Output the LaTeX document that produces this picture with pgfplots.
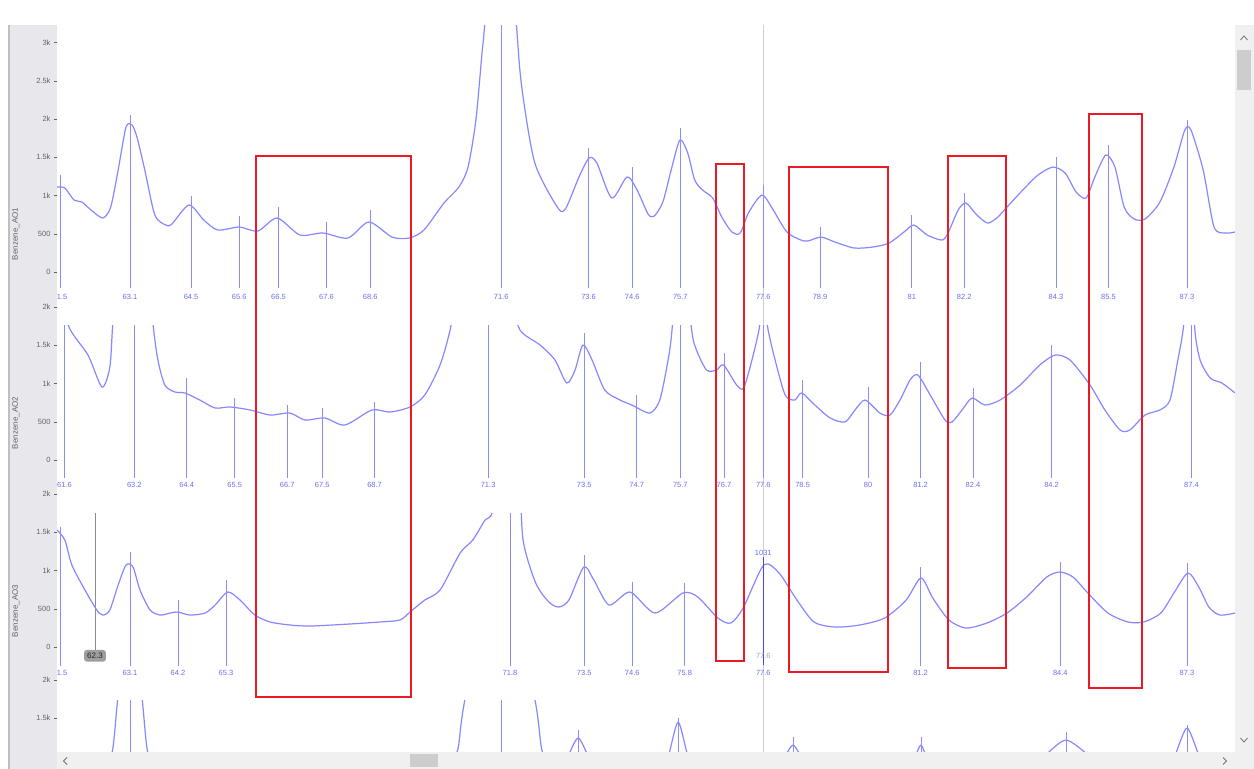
\documentclass[border=0pt]{standalone}
\usepackage{pgfplots}
\pgfplotsset{compat=1.18}
\usepackage{fontspec}
\setmainfont{Liberation Sans}
\definecolor{crv}{RGB}{135,135,255}
\definecolor{stm}{RGB}{140,140,255}
\definecolor{lbl}{RGB}{110,110,245}
\definecolor{redbox}{RGB}{235,25,35}
\definecolor{tickc}{RGB}{100,100,100}
\definecolor{panelgray}{RGB}{232,232,236}
\definecolor{cursorc}{RGB}{205,205,205}
\definecolor{track}{RGB}{240,240,240}
\definecolor{thumb}{RGB}{205,205,205}
\definecolor{hl}{RGB}{70,70,235}
\pgfplotsset{
  base/.style={x=43.68pt, y=0.0765pt, xmin=61.43, xmax=88.40, anchor=south west},
  data/.style={base, hide axis, clip=true},
  tks/.style={base, hide x axis, axis y line*=left, y axis line style={draw=none},
    ytick style={tickc, line width=0.5pt}, major tick length=3pt, tick align=outside,
    scaled y ticks=false,
    yticklabel style={font=\fontsize{7.5}{8}\selectfont, text=tickc}},
  crvs/.style={crv, line width=1.2pt, no marks, smooth, tension=0.45, line join=round},
  stms/.style={stm, line width=0.8pt, no marks, unbounded coords=jump},
  labs/.style={draw=none, mark=none, nodes near coords, point meta=explicit symbolic,
    every node near coord/.append style={font=\fontsize{7.5}{8}\selectfont, text=lbl, anchor=center, inner sep=0pt}},
}
\begin{document}
\begin{tikzpicture}[x=1pt,y=1pt]
\useasboundingbox (0,0) rectangle (1254,769);
\fill[white] (0,0) rectangle (1254,769);
\draw[cursorc, line width=0.8pt] (763,17) -- (763,744);

% ---------------- panel 1 data ----------------
\begin{axis}[data, at={(57pt,464pt)}, ymin=-431, ymax=3228]
\addplot[crvs] coordinates {(61.43,1111) (61.61,1098) (61.82,941) (62.00,915) (62.21,810) (62.48,706) (62.66,850) (62.83,1333) (63.01,1895) (63.15,1921) (63.26,1764) (63.44,1333) (63.67,745) (63.92,614) (64.06,627) (64.45,876) (64.79,680) (65.11,549) (65.60,588) (66.03,536) (66.47,706) (66.99,484) (67.52,510) (68.09,444) (68.57,654) (69.10,457) (69.49,444) (69.83,549) (70.29,902) (70.63,1111) (70.84,1372) (71.02,1987) (71.16,2862) (71.23,3294) (71.6,6000) (71.94,3294) (72.07,2418) (72.37,1425) (72.90,836) (73.08,836) (73.38,1242) (73.61,1490) (73.79,1425) (74.13,967) (74.48,1242) (74.71,1072) (74.96,760) (75.10,730) (75.30,915) (75.49,1333) (75.69,1725) (75.87,1555) (76.03,1202) (76.21,1072) (76.44,967) (76.65,719) (76.88,523) (77.07,510) (77.27,784) (77.57,1006) (77.80,836) (78.14,523) (78.46,418) (78.62,405) (78.92,457) (79.24,392) (79.68,314) (80.11,327) (80.48,379) (80.82,523) (81.05,614) (81.35,484) (81.69,418) (81.83,510) (82.06,810) (82.24,902) (82.49,745) (82.74,640) (82.97,719) (83.18,850) (83.54,1072) (83.89,1268) (84.23,1372) (84.51,1294) (84.76,1046) (84.99,967) (85.19,1242) (85.44,1529) (85.65,1372) (85.86,850) (86.09,693) (86.34,693) (86.68,915) (87.00,1372) (87.25,1856) (87.39,1856) (87.67,1333) (87.92,588) (88.19,510) (88.40,523)};
\addplot[stms] coordinates {(61.5,-210) (61.5,1270) (61.5,nan) (63.1,-210) (63.1,2050) (63.1,nan) (64.5,-210) (64.5,1000) (64.5,nan) (65.6,-210) (65.6,730) (65.6,nan) (66.5,-210) (66.5,850) (66.5,nan) (67.6,-210) (67.6,650) (67.6,nan) (68.6,-210) (68.6,810) (68.6,nan) (71.6,-210) (71.6,5000) (71.6,nan) (73.6,-210) (73.6,1620) (73.6,nan) (74.6,-210) (74.6,1370) (74.6,nan) (75.7,-210) (75.7,1880) (75.7,nan) (77.6,-210) (77.6,1140) (77.6,nan) (78.9,-210) (78.9,590) (78.9,nan) (81,-210) (81,745) (81,nan) (82.2,-210) (82.2,1030) (82.2,nan) (84.3,-210) (84.3,1500) (84.3,nan) (85.5,-210) (85.5,1660) (85.5,nan) (87.3,-210) (87.3,1990)};
\addplot[labs] table[meta=l] {
x y l
61.5 -327 61.5
63.1 -327 63.1
64.5 -327 64.5
65.6 -327 65.6
66.5 -327 66.5
67.6 -327 67.6
68.6 -327 68.6
71.6 -327 71.6
73.6 -327 73.6
74.6 -327 74.6
75.7 -327 75.7
77.6 -327 77.6
78.9 -327 78.9
81 -327 81
82.2 -327 82.2
84.3 -327 84.3
85.5 -327 85.5
87.3 -327 87.3
};
\end{axis}

% ---------------- panel 2 data ----------------
\begin{axis}[data, at={(57pt,279pt)}, ymin=-392, ymax=1764]
\addplot[crvs] coordinates {(61.43,2500) (61.68,1770) (62.14,1372) (62.46,954) (62.64,1215) (62.71,1800) (62.85,2600) (63.2,4000) (63.50,2600) (63.63,1764) (63.74,1307) (63.90,980) (64.13,889) (64.36,876) (64.70,784) (65.05,680) (65.39,693) (65.85,654) (66.31,588) (66.76,614) (67.11,523) (67.56,549) (68.02,457) (68.64,654) (69.05,627) (69.51,693) (69.85,850) (70.20,1242) (70.43,1699) (70.54,2100) (71.3,5000) (71.90,2100) (72.03,1699) (72.49,1503) (72.83,1307) (73.10,1006) (73.29,1176) (73.47,1503) (73.68,1307) (73.97,915) (74.32,784) (74.59,719) (75.00,614) (75.23,784) (75.42,1307) (75.51,1699) (75.7,3000) (75.96,1699) (76.07,1438) (76.30,1176) (76.53,1176) (76.69,1242) (76.99,980) (77.15,941) (77.34,1307) (77.50,1699) (77.6,2100) (77.71,1699) (77.87,1307) (78.10,850) (78.32,784) (78.48,876) (78.78,719) (79.13,549) (79.47,497) (79.70,654) (79.93,784) (80.27,614) (80.50,588) (80.73,784) (80.96,1046) (81.14,1111) (81.42,850) (81.76,523) (81.92,497) (82.15,654) (82.38,810) (82.67,719) (83.02,784) (83.48,980) (83.93,1242) (84.28,1372) (84.62,1307) (85.08,980) (85.42,654) (85.77,392) (85.99,392) (86.34,588) (86.68,654) (86.91,784) (87.09,1307) (87.21,1699) (87.4,2600) (87.48,1699) (87.60,1307) (87.83,1072) (88.10,1006) (88.40,876)};
\addplot[stms] coordinates {(61.6,-230) (61.6,3000) (61.6,nan) (63.2,-230) (63.2,3000) (63.2,nan) (64.4,-230) (64.4,1070) (64.4,nan) (65.5,-230) (65.5,810) (65.5,nan) (66.7,-230) (66.7,720) (66.7,nan) (67.5,-230) (67.5,680) (67.5,nan) (68.7,-230) (68.7,760) (68.7,nan) (71.3,-230) (71.3,3000) (71.3,nan) (73.5,-230) (73.5,1660) (73.5,nan) (74.7,-230) (74.7,850) (74.7,nan) (75.7,-230) (75.7,3000) (75.7,nan) (76.7,-230) (76.7,1400) (76.7,nan) (77.6,-230) (77.6,3000) (77.6,nan) (78.5,-230) (78.5,1050) (78.5,nan) (80,-230) (80,950) (80,nan) (81.2,-230) (81.2,1280) (81.2,nan) (82.4,-230) (82.4,940) (82.4,nan) (84.2,-230) (84.2,1500) (84.2,nan) (87.4,-230) (87.4,3000)};
\addplot[labs] table[meta=l] {
x y l
61.6 -327 61.6
63.2 -327 63.2
64.4 -327 64.4
65.5 -327 65.5
66.7 -327 66.7
67.5 -327 67.5
68.7 -327 68.7
71.3 -327 71.3
73.5 -327 73.5
74.7 -327 74.7
75.7 -327 75.7
76.7 -327 76.7
77.6 -327 77.6
78.5 -327 78.5
80 -327 80
81.2 -327 81.2
82.4 -327 82.4
84.2 -327 84.2
87.4 -327 87.4
};
\end{axis}

% ---------------- panel 3 data ----------------
\begin{axis}[data, at={(57pt,92pt)}, ymin=-392, ymax=1751]
\addplot[black!45, line width=0.6pt, no marks] coordinates {(62.3,-80) (62.3,1751)};
\addplot[crvs] coordinates {(61.43,1529) (61.61,1398) (61.77,1072) (62.07,745) (62.34,484) (62.48,418) (62.64,484) (62.83,810) (63.01,1072) (63.17,1046) (63.33,745) (63.56,484) (63.79,418) (64.02,444) (64.20,457) (64.47,418) (64.82,444) (65.05,549) (65.34,719) (65.62,614) (65.96,418) (66.31,327) (66.76,288) (67.22,274) (68.14,301) (68.82,327) (69.28,353) (69.51,457) (69.85,614) (70.20,745) (70.66,1229) (70.95,1399) (71.23,1660) (71.39,1751) (71.50,2300) (71.8,4000) (72.02,2300) (72.10,1399) (72.39,836) (72.69,588) (72.92,523) (73.15,614) (73.49,1046) (73.72,876) (74.07,549) (74.55,719) (75.12,444) (75.76,706) (76.10,654) (76.56,379) (76.86,314) (77.15,523) (77.61,1072) (77.96,967) (78.37,614) (78.76,327) (79.24,261) (79.81,288) (80.38,379) (80.87,614) (81.21,902) (81.48,640) (81.85,353) (82.24,248) (82.72,314) (83.18,444) (83.63,654) (84.09,915) (84.39,980) (84.69,915) (85.03,706) (85.49,444) (85.95,327) (86.31,327) (86.70,444) (87.00,706) (87.32,967) (87.57,784) (87.80,523) (88.05,418) (88.40,444)};
\addplot[stms] coordinates {(61.5,-250) (61.5,1568) (61.5,nan) (63.1,-250) (63.1,1240) (63.1,nan) (64.2,-250) (64.2,610) (64.2,nan) (65.3,-250) (65.3,880) (65.3,nan) (71.8,-250) (71.8,5000) (71.8,nan) (73.5,-250) (73.5,1202) (73.5,nan) (74.6,-250) (74.6,850) (74.6,nan) (75.8,-250) (75.8,836) (75.8,nan) (81.2,-250) (81.2,1046) (81.2,nan) (84.4,-250) (84.4,1111) (84.4,nan) (87.3,-250) (87.3,1098)};
\addplot[hl, line width=1.3pt, no marks] coordinates {(77.6,-240) (77.6,1176)};
\addplot[labs] table[meta=l] {
x y l
61.5 -340 61.5
63.1 -340 63.1
64.2 -340 64.2
65.3 -340 65.3
71.8 -340 71.8
73.5 -340 73.5
74.6 -340 74.6
75.8 -340 75.8
77.6 -340 77.6
81.2 -340 81.2
84.4 -340 84.4
87.3 -340 87.3
};
\addplot[labs] table[meta=l] {
x y l
77.6 1235 1031
};
\addplot[labs, every node near coord/.append style={text=black!35}] table[meta=l] {
x y l
77.6 -120 77.6
};
\addplot[labs, every node near coord/.append style={font=\fontsize{8}{9}\selectfont, text=black!85, fill=black!38, rounded corners=2.5pt, inner xsep=3pt, inner ysep=3pt}] table[meta=l] {
x y l
62.3 -115 62.3
};
\end{axis}

% ---------------- panel 4 data ----------------
\begin{axis}[data, at={(57pt,17pt)}, ymin=1059, ymax=1738]
\addplot[crvs] coordinates {(62.41,800) (62.69,1050) (62.83,1800) (63.1,3000) (63.37,1800) (63.51,1050) (63.79,800) (70.20,800) (70.43,950) (70.61,1100) (70.77,1750) (71.57,4000) (72.37,1750) (72.55,1050) (72.94,900) (73.12,1000) (73.36,1242) (73.60,1000) (73.80,850) (75.20,850) (75.42,1000) (75.65,1450) (75.88,1000) (76.15,800) (77.98,800) (78.10,1000) (78.28,1150) (78.46,1000) (78.67,800) (80.96,800) (81.08,1000) (81.21,1150) (81.34,1000) (81.64,800) (83.93,900) (84.14,1060) (84.53,1215) (84.95,1060) (85.19,900) (86.91,850) (87.05,1050) (87.30,1372) (87.55,1050) (87.71,850) (88.40,800)};
\addplot[stms] coordinates {(63.1,0) (63.1,3000) (63.1,nan) (71.6,0) (71.6,3000) (71.6,nan) (73.36,0) (73.36,1346) (73.36,nan) (75.65,0) (75.65,1500) (75.65,nan) (78.28,0) (78.28,1255) (78.28,nan) (81.21,0) (81.21,1255) (81.21,nan) (84.53,0) (84.53,1320) (84.53,nan) (87.3,0) (87.3,1411)};
\end{axis}

% left gray strip (over label overflow), then tick axes
\fill[panelgray] (10,0) rectangle (57,744);
\fill[black!25] (8,0) rectangle (9.5,744);

\begin{axis}[tks, at={(57pt,464pt)}, ymin=-431, ymax=3228, ytick={0,500,1000,1500,2000,2500,3000}, yticklabels={0,500,1k,1.5k,2k,2.5k,3k}]
\addplot[draw=none] coordinates {(70,0)};
\end{axis}
\begin{axis}[tks, at={(57pt,279pt)}, ymin=-392, ymax=2052, ytick={0,500,1000,1500,2000}, yticklabels={0,500,1k,1.5k,2k}]
\addplot[draw=none] coordinates {(70,0)};
\end{axis}
\begin{axis}[tks, at={(57pt,92pt)}, ymin=-392, ymax=2052, ytick={0,500,1000,1500,2000}, yticklabels={0,500,1k,1.5k,2k}]
\addplot[draw=none] coordinates {(70,0)};
\end{axis}
\begin{axis}[tks, at={(57pt,17pt)}, ymin=1059, ymax=2065, ytick={1500,2000}, yticklabels={1.5k,2k}]
\addplot[draw=none] coordinates {(70,1500)};
\end{axis}

% y titles
\node[rotate=90, font=\fontsize{8}{9}\selectfont, text=tickc] at (16,535) {Benzene\_AO1};
\node[rotate=90, font=\fontsize{8}{9}\selectfont, text=tickc] at (16,346) {Benzene\_AO2};
\node[rotate=90, font=\fontsize{8}{9}\selectfont, text=tickc] at (16,158) {Benzene\_AO3};

% scrollbars
\fill[track] (1235,17) rectangle (1254,744);
\fill[thumb] (1237,679) rectangle (1251,719);
\draw[black!55, line width=0.8pt] (1240.5,729) -- (1244,733) -- (1247.5,729);
\draw[black!55, line width=0.8pt] (1240.5,31) -- (1244,27) -- (1247.5,31);
\fill[track] (57,0) rectangle (1254,17);
\fill[thumb] (410,2) rectangle (438,15);
\draw[black!55, line width=0.8pt] (67,11.5) -- (63.5,8) -- (67,4.5);
\draw[black!55, line width=0.8pt] (1223,11.5) -- (1226.5,8) -- (1223,4.5);

% red annotation boxes
\draw[redbox, line width=1.8pt] (256,613) rectangle (411,72);
\draw[redbox, line width=1.8pt] (716,605) rectangle (744,108);
\draw[redbox, line width=1.8pt] (789,602) rectangle (888,97);
\draw[redbox, line width=1.8pt] (948,613) rectangle (1006,101);
\draw[redbox, line width=1.8pt] (1089,655) rectangle (1142,81);
\end{tikzpicture}
\end{document}
